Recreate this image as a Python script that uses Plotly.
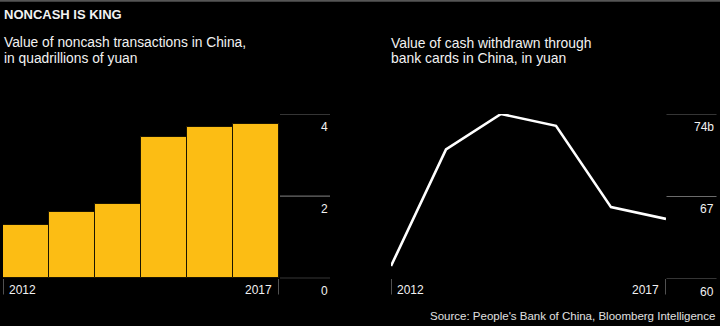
import plotly.graph_objects as go

W, H = 720, 326

years = [2012, 2013, 2014, 2015, 2016, 2017]
noncash_quadrillion = [1.29, 1.61, 1.82, 3.45, 3.69, 3.76]
cash_withdrawn_b = [61.1, 71.0, 74.0, 73.0, 66.1, 65.1]

left_ticks = [0, 2, 4]
left_tick_labels = ["0", "2", "4"]
right_ticks = [60, 67, 74]
right_tick_labels = ["60", "67", "74b"]

title = "NONCASH IS KING"
left_sub = ["Value of noncash transactions in China,", "in quadrillions of yuan"]
right_sub = ["Value of cash withdrawn through", "bank cards in China, in yuan"]
source = "Source: People's Bank of China, Bloomberg Intelligence"

FONT = "Liberation Sans"
TXT = "#f2f2f2"
GRID = "#6b6b6b"
BAR = "#fcbd14"


def px(x):
    return x / W


def py(y):
    return 1 - y / H


fig = go.Figure()
fig.add_trace(go.Bar(x=years, y=noncash_quadrillion, width=1,
                     marker=dict(color=BAR, line=dict(color="#1a1400", width=1)),
                     xaxis="x", yaxis="y", hoverinfo="skip"))
fig.add_trace(go.Scatter(x=years, y=cash_withdrawn_b, mode="lines",
                         line=dict(color="#ffffff", width=2.6),
                         xaxis="x2", yaxis="y2", cliponaxis=False, hoverinfo="skip"))

ax_common = dict(visible=False, fixedrange=True)
fig.update_layout(
    width=W, height=H, margin=dict(l=0, r=0, t=0, b=0),
    paper_bgcolor="#000000", plot_bgcolor="rgba(0,0,0,0)",
    showlegend=False, bargap=0,
    xaxis=dict(domain=[px(3), px(279)], range=[2011.5, 2017.5], **ax_common),
    yaxis=dict(domain=[py(278.3), py(114)], range=[0, 4], **ax_common),
    xaxis2=dict(domain=[px(391), px(666)], range=[2012, 2017], anchor="y2", **ax_common),
    yaxis2=dict(domain=[py(279), py(114)], range=[60, 74], anchor="x2", **ax_common),
)

shapes = []
annotations = []

# top rule
shapes.append(dict(type="line", xref="paper", yref="paper", x0=0, x1=1, y0=py(0.8), y1=py(0.8),
                   line=dict(color="#555555", width=2)))


def txt(x, y, s, size=13, anchor="left", color=TXT, bold=False, xref="paper", yref="paper", yshift=0):
    annotations.append(dict(x=x, y=y, xref=xref, yref=yref, text=("<b>%s</b>" % s) if bold else s,
                            showarrow=False, xanchor=anchor, yanchor="middle", yshift=yshift,
                            font=dict(family=FONT, size=size, color=color)))


txt(px(2), py(15), title, size=13, bold=True)
txt(px(2), py(42.5), left_sub[0], size=13.8)
txt(px(2), py(58.5), left_sub[1], size=13.8)
txt(px(389), py(42.5), right_sub[0], size=13.9)
txt(px(389), py(58.5), right_sub[1], size=13.9)
txt(px(717), py(316), source, size=11.5, anchor="right", color="#e0e0e0")

# left axis gridlines + labels
for v, lab in zip(left_ticks, left_tick_labels):
    shapes.append(dict(type="line", xref="paper", yref="y", x0=px(280), x1=px(330), y0=v, y1=v,
                       line=dict(color=GRID, width=1.2)))
    txt(px(330), v, lab, size=12, anchor="right", yref="y", yshift=-12.5)

# right axis gridlines + labels
for v, lab in zip(right_ticks, right_tick_labels):
    shapes.append(dict(type="line", xref="paper", yref="y2", x0=px(666.5), x1=px(716.5), y0=v, y1=v,
                       line=dict(color=GRID, width=1.2)))
    txt(px(716), v, lab, size=12, anchor="right", yref="y2", yshift=-12.5)

# x ticks (vertical marks) and year labels
for xr, xv in (("x", 2011.5), ("x", 2017.5), ("x2", years[0]), ("x2", years[-1])):
    shapes.append(dict(type="line", xref=xr, yref="paper", x0=xv, x1=xv, y0=py(279), y1=py(294.5),
                       line=dict(color="#a0a0a0", width=1)))

annotations.append(dict(x=2011.5, y=py(289.5), xref="x", yref="paper", text=str(years[0]), showarrow=False,
                        xanchor="left", yanchor="middle", xshift=4, font=dict(family=FONT, size=12, color=TXT)))
annotations.append(dict(x=2017.5, y=py(289.5), xref="x", yref="paper", text=str(years[-1]), showarrow=False,
                        xanchor="right", yanchor="middle", xshift=-5, font=dict(family=FONT, size=12, color=TXT)))
annotations.append(dict(x=years[0], y=py(289.5), xref="x2", yref="paper", text=str(years[0]), showarrow=False,
                        xanchor="left", yanchor="middle", xshift=4, font=dict(family=FONT, size=12, color=TXT)))
annotations.append(dict(x=years[-1], y=py(289.5), xref="x2", yref="paper", text=str(years[-1]), showarrow=False,
                        xanchor="right", yanchor="middle", xshift=-5, font=dict(family=FONT, size=12, color=TXT)))

fig.update_layout(shapes=shapes, annotations=annotations)
fig.write_html("out.html", config={"displayModeBar": False})
